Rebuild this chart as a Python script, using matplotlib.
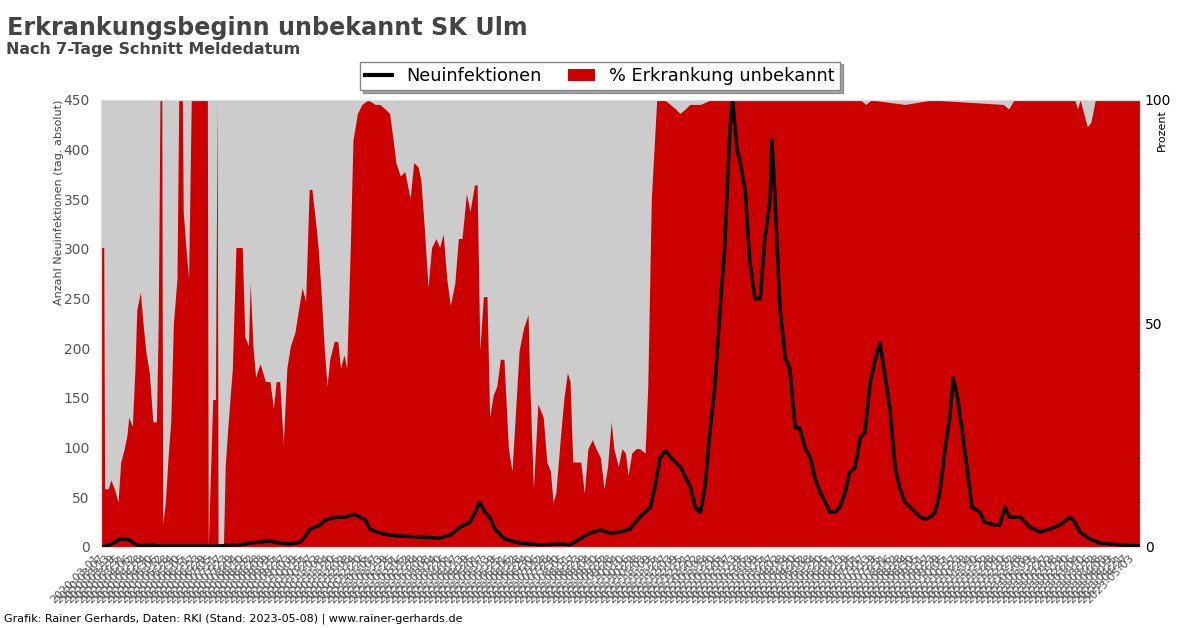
import matplotlib
matplotlib.use("Agg")
import matplotlib.pyplot as plt
import matplotlib.transforms as mtransforms
from matplotlib.lines import Line2D
from matplotlib.patches import Patch
import pandas as pd

start_date = "2020-03-01"
end_date = "2023-05-08"

# Neuinfektionen (7-Tage Schnitt), day index since start_date
case_days = [0, 10, 16, 21, 27, 32, 38, 44, 55, 66, 133, 144, 156, 167, 178, 189, 200, 212,
             223, 228, 234, 245, 251, 262, 273, 284, 290, 296, 301, 312, 323, 335, 357, 379,
             391, 402, 413, 419, 424, 430, 435, 441, 452, 469, 491, 514, 525, 536, 547, 559,
             570, 581, 592, 603, 615, 620, 626, 632, 638, 649, 660, 665, 671, 676, 682, 687,
             693, 698, 704, 707, 712, 715, 721, 726, 732, 738, 743, 749, 751, 754, 760, 766,
             771, 777, 782, 788, 794, 799, 805, 811, 816, 822, 827, 833, 838, 844, 850, 855,
             861, 867, 872, 878, 883, 889, 894, 900, 906, 917, 923, 928, 934, 939, 945, 950,
             954, 959, 965, 970, 975, 984, 989, 1001, 1006, 1012, 1017, 1029, 1040, 1051,
             1062, 1073, 1085, 1090, 1096, 1107, 1118, 1141, 1163]
case_values = [0, 2, 5, 8, 8, 7, 3, 1, 2, 1, 1, 2, 2, 4, 5, 6, 4, 3,
               5, 10, 18, 22, 27, 30, 30, 33, 30, 27, 18, 14, 12, 11, 10, 9,
               12, 20, 25, 35, 45, 35, 30, 18, 8, 4, 2, 3, 2, 8, 14, 17,
               14, 15, 18, 30, 40, 60, 90, 97, 90, 80, 60, 40, 35, 60, 120, 160,
               240, 300, 420, 450, 400, 390, 360, 290, 250, 250, 310, 350, 410, 360, 240, 190,
               180, 120, 120, 100, 90, 70, 55, 45, 35, 35, 40, 55, 75, 80, 110, 115,
               165, 190, 205, 170, 140, 80, 60, 45, 40, 30, 28, 30, 35, 55, 100, 130,
               170, 150, 110, 75, 40, 35, 25, 22, 22, 40, 30, 30, 20, 15,
               18, 22, 30, 25, 15, 8, 4, 2, 1]

# % Erkrankungsbeginn unbekannt, day index since start_date
pct_days = [0, 3, 4, 8, 11, 15, 19, 22, 26, 29, 31, 35, 38, 40, 44, 47, 50, 54, 58, 62,
            64, 66, 68, 69, 72, 75, 78, 81, 85, 87, 91, 92, 95, 98, 101, 119, 120, 125,
            128, 130, 131, 137, 139, 142, 147, 151, 158, 161, 165, 167, 170, 173, 178, 184,
            189, 193, 196, 200, 204, 208, 212, 217, 221, 225, 229, 233, 236, 240, 243, 246,
            250, 253, 256, 261, 265, 268, 272, 275, 279, 282, 287, 292, 299, 307, 312, 318,
            323, 327, 330, 335, 340, 346, 350, 355, 358, 362, 366, 370, 375, 379, 383, 387,
            391, 396, 400, 404, 409, 413, 418, 421, 424, 428, 432, 435, 439, 443, 447, 451,
            456, 460, 463, 468, 473, 478, 480, 484, 489, 495, 499, 503, 506, 509, 514, 518,
            522, 525, 528, 533, 537, 541, 545, 550, 554, 559, 563, 567, 571, 574, 579, 583,
            587, 590, 594, 599, 603, 609, 612, 616, 619, 622, 631, 637, 643, 648, 654, 659,
            671, 682, 760, 850, 856, 862, 900, 930, 1010, 1016, 1022, 1090, 1093, 1096,
            1104, 1108, 1113, 1118, 1125, 1163]
pct_values = [67, 67, 13, 13, 15, 13, 10, 19, 22, 25, 29, 27, 40, 53, 57, 50, 44, 39, 28, 28,
              50, 100, 100, 5, 10, 20, 28, 50, 60, 100, 100, 75, 67, 60, 100, 100, 0, 33,
              33, 100, 0, 0, 18, 27, 40, 67, 67, 47, 45, 59, 45, 38, 41, 37,
              37, 31, 37, 37, 23, 40, 45, 48, 53, 58, 55, 80, 80, 73, 67, 58,
              44, 36, 42, 46, 46, 40, 43, 40, 67, 91, 97, 99, 100, 99, 99, 98,
              97, 91, 86, 83, 84, 78, 86, 85, 82, 71, 58, 67, 69, 67, 70, 60,
              54, 59, 69, 69, 79, 75, 81, 81, 44, 56, 56, 29, 34, 36, 42, 42,
              22, 17, 27, 44, 49, 52, 36, 13, 32, 29, 19, 17, 10, 12, 24, 33,
              39, 37, 19, 19, 19, 12, 22, 24, 22, 20, 13, 18, 28, 22, 18, 22,
              21, 16, 21, 22, 22, 21, 36, 78, 89, 100, 100, 99, 98, 97, 98, 99,
              99, 100, 100, 100, 99, 100, 99, 100, 99, 98, 100, 100, 98, 100,
              94, 95, 100, 100, 100, 100]

dates = pd.date_range(start_date, end_date, freq="D")
date_labels = [d.strftime("%Y-%m-%d") for d in dates]

fig = plt.figure(figsize=(12, 6.28), dpi=100)
ax2 = fig.add_axes([0.0842, 0.129, 0.8658, 0.7118])
ax = ax2.twinx()
ax.yaxis.tick_left()
ax.yaxis.set_label_position("left")
ax2.yaxis.tick_right()
ax2.yaxis.set_label_position("right")

ax2.set_facecolor("#cccccc")
ax.patch.set_visible(False)
ax.set_zorder(ax2.get_zorder() + 1)

ax2.fill_between(pct_days, pct_values, 0, color="#cc0000", linewidth=0)
ax.plot(case_days, case_values, color="black", linewidth=2.5)

ax.set_xlim(0, len(dates) - 1)
ax.set_ylim(0, 450)
ax2.set_ylim(0, 100)

ax.set_yticks(range(0, 451, 50))
ax.tick_params(axis="y", length=0, labelsize=10, labelcolor="#555555", pad=8)
ax2.set_yticks([0, 50, 100])
ax2.set_yticks(range(0, 101, 10), minor=True)
ax2.tick_params(axis="y", which="both", labelsize=10, labelcolor="black", direction="in")

tick_idx = list(range(0, len(dates), 6))
ax2.set_xticks(tick_idx)
ax2.set_xticklabels([date_labels[i] for i in tick_idx], rotation=45, ha="right",
                    rotation_mode="anchor", fontsize=8, color="#555555")
ax2.tick_params(axis="x", length=0, pad=4)
shift = mtransforms.ScaledTranslation(-0.07, 0, fig.dpi_scale_trans)
for lbl in ax2.get_xticklabels():
    lbl.set_transform(lbl.get_transform() + shift)

for a in (ax, ax2):
    for s in a.spines.values():
        s.set_color("#dddddd")

ax.set_ylabel("Anzahl Neuinfektionen (tag. absolut)", fontsize=8, color="#444444",
              loc="top", labelpad=0)
ax2.set_ylabel("Prozent", fontsize=8, color="black", loc="top", labelpad=-10)
ax2.yaxis.label.set_y(0.98)

fig.text(0.006, 0.975, "Erkrankungsbeginn unbekannt SK Ulm", fontsize=17.2,
         fontweight="bold", color="#444444", va="top")
fig.text(0.005, 0.933, "Nach 7-Tage Schnitt Meldedatum", fontsize=11.4,
         fontweight="bold", color="#444444", va="top")
fig.text(0.003, 0.01, "Grafik: Rainer Gerhards, Daten: RKI (Stand: 2023-05-08) | www.rainer-gerhards.de",
         fontsize=8, color="black")

handles = [Line2D([], [], color="black", linewidth=3),
           Patch(facecolor="#cc0000")]
fig.legend(handles, ["Neuinfektionen", "% Erkrankung unbekannt"], loc="center",
           bbox_to_anchor=(0.5, 0.879), ncol=2, fontsize=12.8, shadow=True,
           fancybox=False, edgecolor="#888888", framealpha=1, handlelength=1.5,
           columnspacing=1.5, borderpad=0.3)

fig.savefig("out.png", dpi=100)
